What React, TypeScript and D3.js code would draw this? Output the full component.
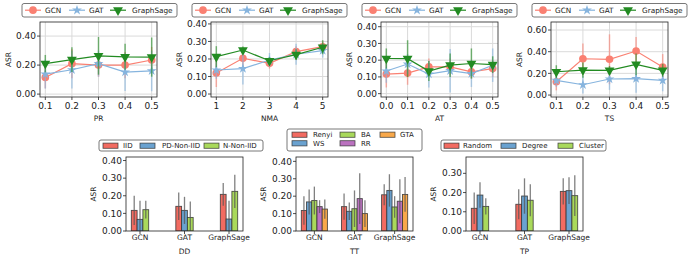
import { useEffect, useRef } from "react";
import * as d3 from "d3";

const FONT = "DejaVu Sans, sans-serif";

const modelNames = ["GCN", "GAT", "GraphSage"];
const lineColors = ["#fa8072", "#86b4de", "#228b22"];
const barColors = ["#f26b61", "#6aa2d0", "#a9d95b", "#bb72c0", "#f8a84a"];

// PR
const prX = [0.1, 0.2, 0.3, 0.4, 0.5];
const prGCN = [0.115, 0.21, 0.2, 0.2, 0.235];
const prGCNErr = [0.075, 0.1, 0.08, 0.09, 0.09];
const prGAT = [0.138, 0.168, 0.21, 0.152, 0.16];
const prGATErr = [0.1, 0.13, 0.09, 0.13, 0.14];
const prSage = [0.21, 0.238, 0.264, 0.257, 0.255];
const prSageErr = [0.06, 0.085, 0.13, 0.09, 0.135];

// NMA
const nmaX = [1, 2, 3, 4, 5];
const nmaGCN = [0.12, 0.204, 0.175, 0.242, 0.27];
const nmaGCNErr = [0.08, 0.06, 0.03, 0.03, 0.03];
const nmaGAT = [0.137, 0.145, 0.194, 0.227, 0.248];
const nmaGATErr = [0.05, 0.09, 0.04, 0.06, 0.04];
const nmaSage = [0.213, 0.251, 0.19, 0.225, 0.267];
const nmaSageErr = [0.06, 0.02, 0.02, 0.03, 0.04];

// AT
const atX = [0.0, 0.1, 0.2, 0.3, 0.4, 0.5];
const atGCN = [0.117, 0.123, 0.16, 0.16, 0.13, 0.15];
const atGCNErr = [0.08, 0.07, 0.05, 0.05, 0.04, 0.05];
const atGAT = [0.135, 0.177, 0.117, 0.137, 0.12, 0.17];
const atGATErr = [0.07, 0.06, 0.08, 0.13, 0.08, 0.1];
const atSage = [0.21, 0.209, 0.135, 0.17, 0.18, 0.173];
const atSageErr = [0.06, 0.11, 0.06, 0.07, 0.09, 0.05];

// TS
const tsX = [0.1, 0.2, 0.3, 0.4, 0.5];
const tsGCN = [0.123, 0.335, 0.33, 0.406, 0.258];
const tsGCNErr = [0.08, 0.14, 0.23, 0.13, 0.12];
const tsGAT = [0.135, 0.095, 0.148, 0.151, 0.135];
const tsGATErr = [0.06, 0.08, 0.1, 0.13, 0.1];
const tsSage = [0.215, 0.23, 0.228, 0.283, 0.228];
const tsSageErr = [0.06, 0.07, 0.04, 0.1, 0.06];

// DD
const ddNames = ["IID", "PD-Non-IID", "N-Non-IID"];
const ddIID = [0.117, 0.14, 0.208];
const ddIIDErr = [0.083, 0.078, 0.064];
const ddPD = [0.066, 0.117, 0.068];
const ddPDErr = [0.106, 0.077, 0.104];
const ddN = [0.121, 0.077, 0.225];
const ddNErr = [0.05, 0.09, 0.094];

// TT
const ttNames = ["Renyi", "WS", "BA", "RR", "GTA"];
const ttRenyi = [0.118, 0.14, 0.208];
const ttRenyiErr = [0.082, 0.076, 0.06];
const ttWS = [0.167, 0.113, 0.233];
const ttWSErr = [0.072, 0.05, 0.093];
const ttBA = [0.175, 0.128, 0.138];
const ttBAErr = [0.08, 0.105, 0.062];
const ttRR = [0.14, 0.186, 0.171];
const ttRRErr = [0.037, 0.146, 0.126];
const ttGTA = [0.126, 0.1, 0.21];
const ttGTAErr = [0.055, 0.077, 0.1];

// TP
const tpNames = ["Random", "Degree", "Cluster"];
const tpRandom = [0.118, 0.139, 0.206];
const tpRandomErr = [0.082, 0.078, 0.068];
const tpDegree = [0.187, 0.182, 0.21];
const tpDegreeErr = [0.066, 0.092, 0.069];
const tpCluster = [0.128, 0.16, 0.184];
const tpClusterErr = [0.042, 0.083, 0.106];

type Series = { values: number[]; errs: number[] };

const linePanels = [
  {
    label: "PR", left: 40, legendX: 22, xs: prX, xFmt: d3.format(".1f"),
    yDomain: [-0.02, 0.497], yTicks: [0, 0.2, 0.4],
    series: [
      { values: prGCN, errs: prGCNErr },
      { values: prGAT, errs: prGATErr },
      { values: prSage, errs: prSageErr },
    ],
  },
  {
    label: "NMA", left: 211, legendX: 192, xs: nmaX, xFmt: d3.format("d"),
    yDomain: [-0.017, 0.411], yTicks: [0, 0.1, 0.2, 0.3, 0.4],
    series: [
      { values: nmaGCN, errs: nmaGCNErr },
      { values: nmaGAT, errs: nmaGATErr },
      { values: nmaSage, errs: nmaSageErr },
    ],
  },
  {
    label: "AT", left: 381, legendX: 362, xs: atX, xFmt: d3.format(".1f"),
    yDomain: [-0.02, 0.428], yTicks: [0, 0.1, 0.2, 0.3, 0.4],
    series: [
      { values: atGCN, errs: atGCNErr },
      { values: atGAT, errs: atGATErr },
      { values: atSage, errs: atSageErr },
    ],
  },
  {
    label: "TS", left: 551, legendX: 532, xs: tsX, xFmt: d3.format(".1f"),
    yDomain: [-0.018, 0.674], yTicks: [0, 0.2, 0.4, 0.6],
    series: [
      { values: tsGCN, errs: tsGCNErr },
      { values: tsGAT, errs: tsGATErr },
      { values: tsSage, errs: tsSageErr },
    ],
  },
];

const barPanels = [
  {
    label: "DD", left: 126, names: ddNames, yDomain: [0, 0.42], yTicks: [0, 0.1, 0.2, 0.3, 0.4],
    legend: { x: 99, y: 140, w: 164, rows: 1, items: [[4, 24], [41, 63], [105, 124]] },
    series: [
      { values: ddIID, errs: ddIIDErr },
      { values: ddPD, errs: ddPDErr },
      { values: ddN, errs: ddNErr },
    ],
  },
  {
    label: "TT", left: 296, names: ttNames, yDomain: [0, 0.425], yTicks: [0, 0.1, 0.2, 0.3, 0.4],
    legend: { x: 287, y: 129, w: 135, rows: 2, items: [[5, 26], [5, 26], [53, 74], [53, 74], [93, 113]] },
    series: [
      { values: ttRenyi, errs: ttRenyiErr },
      { values: ttWS, errs: ttWSErr },
      { values: ttBA, errs: ttBAErr },
      { values: ttRR, errs: ttRRErr },
      { values: ttGTA, errs: ttGTAErr },
    ],
  },
  {
    label: "TP", left: 466, names: tpNames, yDomain: [0, 0.385], yTicks: [0, 0.1, 0.2, 0.3],
    legend: { x: 441, y: 140, w: 165, rows: 1, items: [[3, 22], [60, 81], [117, 138]] },
    series: [
      { values: tpRandom, errs: tpRandomErr },
      { values: tpDegree, errs: tpDegreeErr },
      { values: tpCluster, errs: tpClusterErr },
    ],
  },
];

const symbolFor = (i: number, size: number) => {
  const type = i === 0 ? d3.symbolCircle : i === 1 ? d3.symbolStar : d3.symbolTriangle;
  return d3.symbol().type(type).size(size)() as string;
};
const symbolSizes = [46, 30, 42];

function drawLinePanel(svg: any, p: any, idx: number) {
  const top = 22;
  const bottom = 97;
  const left = p.left;
  const right = left + 117;
  const [lo, hi] = d3.extent(p.xs as number[]) as [number, number];
  const pad = (hi - lo) * 0.05;
  const x = d3.scaleLinear().domain([lo - pad, hi + pad]).range([left, right]);
  const y = d3.scaleLinear().domain(p.yDomain).range([bottom, top]);
  const g = svg.append("g").attr("font-family", FONT);

  const clipId = `clip-line-${idx}`;
  g.append("clipPath").attr("id", clipId).append("rect")
    .attr("x", left).attr("y", top).attr("width", right - left).attr("height", bottom - top);

  // grid
  g.append("g").selectAll("line").data(p.xs).join("line")
    .attr("x1", (d: number) => x(d)).attr("x2", (d: number) => x(d))
    .attr("y1", top).attr("y2", bottom)
    .attr("stroke", "#dadada").attr("stroke-width", 1);
  g.append("g").selectAll("line").data(p.yTicks).join("line")
    .attr("x1", left).attr("x2", right)
    .attr("y1", (d: number) => y(d)).attr("y2", (d: number) => y(d))
    .attr("stroke", "#dadada").attr("stroke-width", 1);

  const plot = g.append("g").attr("clip-path", `url(#${clipId})`);
  p.series.forEach((s: Series, si: number) => {
    const color = lineColors[si];
    plot.append("g").selectAll("line").data(s.values).join("line")
      .attr("x1", (_: number, i: number) => x(p.xs[i]))
      .attr("x2", (_: number, i: number) => x(p.xs[i]))
      .attr("y1", (d: number, i: number) => y(d - s.errs[i]))
      .attr("y2", (d: number, i: number) => y(d + s.errs[i]))
      .attr("stroke", color).attr("stroke-opacity", 0.6).attr("stroke-width", 1.5);
    const line = d3.line<number>().x((_, i) => x(p.xs[i])).y((d) => y(d));
    plot.append("path").datum(s.values).attr("d", line)
      .attr("fill", "none").attr("stroke", color).attr("stroke-width", 1.2);
    plot.append("g").selectAll("path").data(s.values).join("path")
      .attr("transform", (d: number, i: number) =>
        `translate(${x(p.xs[i])},${y(d)})${si === 2 ? " rotate(180)" : ""}`)
      .attr("d", symbolFor(si, symbolSizes[si]))
      .attr("fill", color);
  });

  // frame and ticks
  g.append("rect").attr("x", left).attr("y", top).attr("width", right - left).attr("height", bottom - top)
    .attr("fill", "none").attr("stroke", "#222").attr("stroke-width", 0.8);
  g.append("g").selectAll("line").data(p.xs).join("line")
    .attr("x1", (d: number) => x(d)).attr("x2", (d: number) => x(d))
    .attr("y1", bottom).attr("y2", bottom + 3).attr("stroke", "#222").attr("stroke-width", 0.8);
  g.append("g").selectAll("text").data(p.xs).join("text")
    .attr("x", (d: number) => x(d)).attr("y", 108.5).attr("text-anchor", "middle")
    .attr("font-size", 9).attr("fill", "#222").text((d: number) => p.xFmt(d));
  g.append("g").selectAll("line").data(p.yTicks).join("line")
    .attr("x1", left - 3).attr("x2", left)
    .attr("y1", (d: number) => y(d)).attr("y2", (d: number) => y(d))
    .attr("stroke", "#222").attr("stroke-width", 0.8);
  g.append("g").selectAll("text").data(p.yTicks).join("text")
    .attr("x", left - 4).attr("y", (d: number) => y(d)).attr("dy", "0.35em")
    .attr("text-anchor", "end").attr("font-size", 9).attr("fill", "#222")
    .text((d: number) => d3.format(".2f")(d));

  g.append("text").attr("x", (left + right) / 2).attr("y", 121).attr("text-anchor", "middle")
    .attr("font-size", 7.5).attr("fill", "#222").text(p.label);
  g.append("text").attr("transform", `translate(${left - 29.5},${(top + bottom) / 2}) rotate(-90)`)
    .attr("text-anchor", "middle").attr("font-size", 7.5).attr("fill", "#222").text("ASR");

  // legend
  const lx = p.legendX;
  const leg = g.append("g");
  leg.append("rect").attr("x", lx).attr("y", 3.5).attr("width", 155).attr("height", 13.5)
    .attr("rx", 2).attr("fill", "#fff").attr("stroke", "#555").attr("stroke-width", 0.8);
  const handles = [11, 55, 96];
  const texts = [23, 67, 110];
  modelNames.forEach((name, i) => {
    const cx = lx + handles[i];
    leg.append("line").attr("x1", cx - 8).attr("x2", cx + 8).attr("y1", 10.2).attr("y2", 10.2)
      .attr("stroke", lineColors[i]).attr("stroke-width", 1.2);
    leg.append("path").attr("transform", `translate(${cx},10.2)${i === 2 ? " rotate(180)" : ""}`)
      .attr("d", symbolFor(i, symbolSizes[i])).attr("fill", lineColors[i]);
    leg.append("text").attr("x", lx + texts[i]).attr("y", 12.9).attr("font-size", 7.3)
      .attr("fill", "#222").text(name);
  });
}

function drawBarPanel(svg: any, p: any, idx: number) {
  const top = 157;
  const bottom = 231;
  const left = p.left;
  const right = left + 117;
  const n = p.series.length;
  const bw = 0.13;
  const lo = -(n * bw) / 2;
  const hi = 2 + (n * bw) / 2;
  const pad = (hi - lo) * 0.05;
  const x = d3.scaleLinear().domain([lo - pad, hi + pad]).range([left, right]);
  const y = d3.scaleLinear().domain(p.yDomain).range([bottom, top]);
  const g = svg.append("g").attr("font-family", FONT);

  const clipId = `clip-bar-${idx}`;
  g.append("clipPath").attr("id", clipId).append("rect")
    .attr("x", left).attr("y", top).attr("width", right - left).attr("height", bottom - top);
  const plot = g.append("g").attr("clip-path", `url(#${clipId})`);

  const offset = (j: number) => (j - (n - 1) / 2) * bw;
  p.series.forEach((s: Series, j: number) => {
    plot.append("g").selectAll("rect").data(s.values).join("rect")
      .attr("x", (_: number, i: number) => x(i + offset(j) - bw / 2))
      .attr("width", x(bw) - x(0))
      .attr("y", (d: number) => y(d))
      .attr("height", (d: number) => y(0) - y(d))
      .attr("fill", barColors[j])
      .attr("stroke", "#333").attr("stroke-opacity", 0.85).attr("stroke-width", 0.9);
  });
  p.series.forEach((s: Series, j: number) => {
    plot.append("g").selectAll("line").data(s.values).join("line")
      .attr("x1", (_: number, i: number) => x(i + offset(j)))
      .attr("x2", (_: number, i: number) => x(i + offset(j)))
      .attr("y1", (d: number, i: number) => y(d - s.errs[i]))
      .attr("y2", (d: number, i: number) => y(d + s.errs[i]))
      .attr("stroke", "#555").attr("stroke-opacity", 0.75).attr("stroke-width", 1.3);
  });

  g.append("rect").attr("x", left).attr("y", top).attr("width", right - left).attr("height", bottom - top)
    .attr("fill", "none").attr("stroke", "#222").attr("stroke-width", 0.8);
  g.append("g").selectAll("line").data([0, 1, 2]).join("line")
    .attr("x1", (d: number) => x(d)).attr("x2", (d: number) => x(d))
    .attr("y1", bottom).attr("y2", bottom + 3).attr("stroke", "#222").attr("stroke-width", 0.8);
  g.append("g").selectAll("text").data(modelNames).join("text")
    .attr("x", (_: string, i: number) => x(i)).attr("y", 240).attr("text-anchor", "middle")
    .attr("font-size", 7.5).attr("fill", "#222").text((d: string) => d);
  g.append("g").selectAll("line").data(p.yTicks).join("line")
    .attr("x1", left - 3).attr("x2", left)
    .attr("y1", (d: number) => y(d)).attr("y2", (d: number) => y(d))
    .attr("stroke", "#222").attr("stroke-width", 0.8);
  g.append("g").selectAll("text").data(p.yTicks).join("text")
    .attr("x", left - 4).attr("y", (d: number) => y(d)).attr("dy", "0.35em")
    .attr("text-anchor", "end").attr("font-size", 9).attr("fill", "#222")
    .text((d: number) => d3.format(".2f")(d));

  g.append("text").attr("x", (left + right) / 2).attr("y", 253.5).attr("text-anchor", "middle")
    .attr("font-size", 7.5).attr("fill", "#222").text(p.label);
  g.append("text").attr("transform", `translate(${left - 30},${(top + bottom) / 2}) rotate(-90)`)
    .attr("text-anchor", "middle").attr("font-size", 7.5).attr("fill", "#222").text("ASR");

  // legend
  const L = p.legend;
  const h = L.rows === 2 ? 22 : 11;
  const leg = g.append("g");
  leg.append("rect").attr("x", L.x).attr("y", L.y).attr("width", L.w).attr("height", h)
    .attr("rx", 2).attr("fill", "#fff").attr("stroke", "#555").attr("stroke-width", 0.8);
  p.names.forEach((name: string, j: number) => {
    const row = L.rows === 2 ? j % 2 : 0;
    const cy = L.y + 5.7 + row * 8.6;
    const [hx, tx] = L.items[j];
    leg.append("rect").attr("x", L.x + hx).attr("y", cy - 2.6).attr("width", 15).attr("height", 5.2)
      .attr("fill", barColors[j]).attr("stroke", "#333").attr("stroke-opacity", 0.85).attr("stroke-width", 0.8);
    leg.append("text").attr("x", L.x + tx).attr("y", cy + 2.5).attr("font-size", 7)
      .attr("fill", "#222").text(name);
  });
}

export default function App() {
  const ref = useRef<SVGSVGElement | null>(null);

  useEffect(() => {
    if (!ref.current) return;
    const svg = d3.select(ref.current);
    svg.selectAll("*").remove();
    svg.append("rect").attr("width", 692).attr("height", 260).attr("fill", "#fff");
    linePanels.forEach((p, i) => drawLinePanel(svg, p, i));
    barPanels.forEach((p, i) => drawBarPanel(svg, p, i));
  }, []);

  return (
    <svg
      ref={ref}
      width={692}
      height={260}
      viewBox="0 0 692 260"
      style={{ position: "absolute", left: 0, top: 0 }}
    />
  );
}
